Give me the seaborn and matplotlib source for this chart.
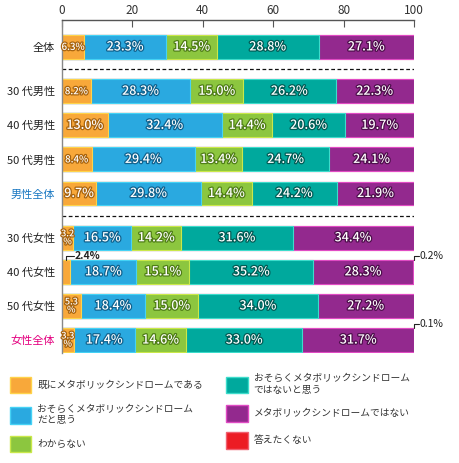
import matplotlib
matplotlib.use("Agg")
import matplotlib.pyplot as plt
import matplotlib.patheffects as pe
from matplotlib.patches import Patch
import seaborn as sns
import pandas as pd
import numpy as np

# データ (%)
groups = ["全体", "30 代男性", "40 代男性", "50 代男性", "男性全体",
          "30 代女性", "40 代女性", "50 代女性", "女性全体"]
already = [6.3, 8.2, 13.0, 8.4, 9.7, 3.2, 2.4, 5.3, 3.3]
probably_yes = [23.3, 28.3, 32.4, 29.4, 29.8, 16.5, 18.7, 18.4, 17.4]
unknown = [14.5, 15.0, 14.4, 13.4, 14.4, 14.2, 15.1, 15.0, 14.6]
probably_no = [28.8, 26.2, 20.6, 24.7, 24.2, 31.6, 35.2, 34.0, 33.0]
not_metabo = [27.1, 22.3, 19.7, 24.1, 21.9, 34.4, 28.3, 27.2, 31.7]
no_answer = [0, 0, 0, 0, 0, 0, 0.2, 0, 0.1]

series_names = ["既にメタボリックシンドロームである",
                "おそらくメタボリックシンドローム\nだと思う",
                "わからない",
                "おそらくメタボリックシンドローム\nではないと思う",
                "メタボリックシンドロームではない",
                "答えたくない"]
series = [already, probably_yes, unknown, probably_no, not_metabo, no_answer]

colors = ["#f8a83a", "#2aa9e0", "#8cc63f", "#00a99d", "#93298e", "#ec1c24"]
edges = ["#ffd34a", "#45d2f5", "#c9e84a", "#3ddccb", "#e04bc4", "#f06070"]
darks = ["#a8640f", "#10628e", "#4f7e16", "#005c55", "#4e0e4c", "#900"]
label_colors = ["#222"] * 4 + ["#1a78c2"] + ["#222"] * 3 + ["#e4007f"]

sns.set_theme(style="white")
plt.rcParams["font.family"] = ["Noto Sans CJK JP", "DejaVu Sans"]

# 行の位置 (グループ間に少し隙間)
gaps = np.array([0, .3, .3, .3, .3, .6, .6, .6, .6])
pos = np.arange(len(groups)) + gaps

df = pd.DataFrame({"pos": pos})
cum = np.zeros(len(groups))
cums = []
for s in series:
    cum = cum + np.array(s)
    cums.append(cum.copy())
for k in range(len(series)):
    df[f"c{k}"] = cums[k]

fig = plt.figure(figsize=(4.6, 4.63), dpi=100)
ax = fig.add_axes([62 / 460, 1 - 353 / 463, 352 / 460, 333 / 463])

# 累積の長い方から描いて積み上げ棒にする
for k in reversed(range(len(series))):
    sns.barplot(data=df, x=f"c{k}", y="pos", orient="y", native_scale=True,
                color=colors[k], edgecolor=edges[k], linewidth=0.8,
                width=0.7, errorbar=None, saturation=1, ax=ax)

ax.set_xlim(0, 100)
ax.set_ylim(pos[-1] + 0.38, -0.79)
ax.set_xlabel("")
ax.set_ylabel("")

# 値ラベル
for k, s in enumerate(series):
    for i, v in enumerate(s):
        if v == 0:
            continue
        left = cums[k][i] - v
        mid = left + v / 2
        top = pos[i] - 0.35
        if k == 5:
            ax.plot([100, 100, 101.3], [top, top - 0.13, top - 0.13],
                    color="#222", lw=0.8, clip_on=False)
            ax.text(101.5, top - 0.13, f"{v:.1f}%", fontsize=7.5, color="#222",
                    va="center", ha="left", clip_on=False)
            continue
        if v < 3:
            ax.plot([mid, mid, mid + 2.2], [top, top - 0.12, top - 0.12],
                    color="#222", lw=0.8)
            ax.text(mid + 2.4, top - 0.12, f"{v:.1f}%", fontsize=7.5, color="#222",
                    va="center", ha="left", fontweight="bold")
            continue
        if v < 6:
            txt, fs = f"{v:.1f}\n%", 6.5
        elif v < 9:
            txt, fs = f"{v:.1f}%", 7
        else:
            txt, fs = f"{v:.1f}%", 9
        ax.text(mid, pos[i], txt, fontsize=fs, color="white", ha="center",
                va="center", linespacing=0.85, fontweight="medium",
                path_effects=[pe.Stroke(linewidth=1.8, foreground=darks[k]),
                              pe.Normal()])

# グループ区切りの点線
for y in [(pos[0] + pos[1]) / 2, (pos[4] + pos[5]) / 2]:
    ax.axhline(y, color="#111", lw=0.9, ls=(0, (3, 2)))

ax.xaxis.tick_top()
ax.set_xticks([0, 20, 40, 60, 80, 100])
ax.tick_params(axis="x", direction="in", length=5, width=0.8, color="#555",
               pad=2.5, labelsize=8.5, labelcolor="#333", top=True, bottom=False)
ax.set_yticks(pos)
ax.set_yticklabels(groups)
ax.tick_params(axis="y", length=0, pad=5, labelsize=8)
for lab, c in zip(ax.get_yticklabels(), label_colors):
    lab.set_color(c)

for side in ["right", "bottom"]:
    ax.spines[side].set_visible(False)
ax.spines["left"].set_color("#888")
ax.spines["left"].set_linewidth(1)
ax.spines["top"].set_color("#555")
ax.spines["top"].set_linewidth(1)

handles = [Patch(facecolor=colors[k], edgecolor=edges[k], linewidth=1)
           for k in range(len(series))]
fig.legend(handles, series_names, ncol=2, loc="upper left",
           bbox_to_anchor=(10 / 460, 1 - 373 / 463), frameon=False,
           fontsize=7, handlelength=2.2, handleheight=2.2, labelspacing=1.1,
           columnspacing=2.4, handletextpad=0.6, borderpad=0, borderaxespad=0,
           labelcolor="#333")

fig.savefig("out.png", dpi=100)
